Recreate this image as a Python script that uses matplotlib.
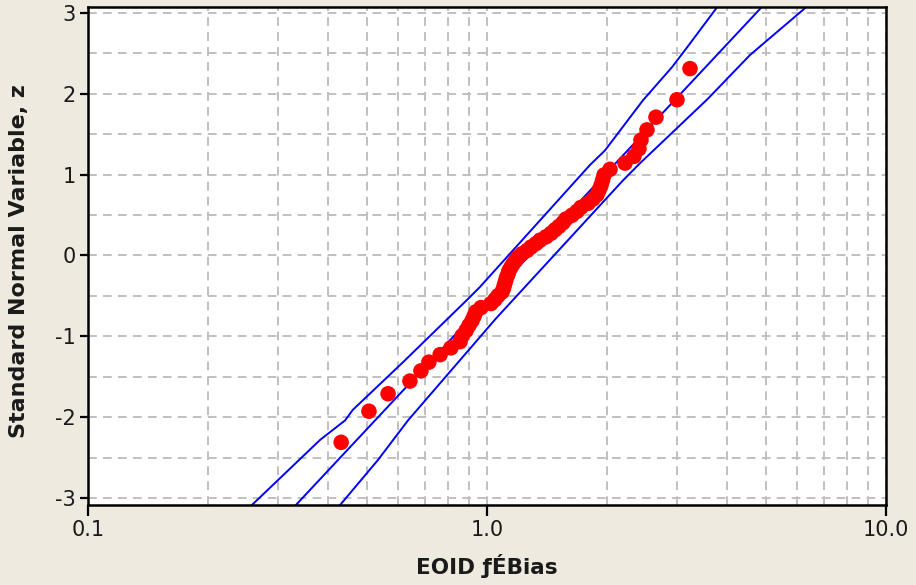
import numpy as np
import matplotlib
matplotlib.use("Agg")
import matplotlib.pyplot as plt
from matplotlib.ticker import FixedLocator, NullFormatter

# standard normal variable (plotting positions) and the matching EOID values
z_scores = [-2.312, -1.927, -1.711, -1.554, -1.428, -1.320, -1.227, -1.143, -1.066, -0.995,
            -0.930, -0.867, -0.808, -0.752, -0.697, -0.645, -0.595, -0.546, -0.498, -0.452,
            -0.406, -0.361, -0.318, -0.274, -0.231, -0.189, -0.147, -0.104, -0.062, -0.021,
            0.021, 0.062, 0.104, 0.147, 0.189, 0.231, 0.274, 0.318, 0.361, 0.406,
            0.452, 0.498, 0.546, 0.595, 0.645, 0.697, 0.752, 0.808, 0.867, 0.930,
            0.995, 1.066, 1.143, 1.227, 1.320, 1.428, 1.554, 1.711, 1.927, 2.312]
eoid_bias = [0.431, 0.506, 0.565, 0.641, 0.683, 0.715, 0.763, 0.812, 0.856, 0.866,
             0.886, 0.901, 0.917, 0.928, 0.938, 0.966, 1.023, 1.047, 1.066, 1.090,
             1.100, 1.106, 1.113, 1.119, 1.129, 1.135, 1.148, 1.162, 1.179, 1.196,
             1.224, 1.260, 1.289, 1.327, 1.358, 1.406, 1.447, 1.481, 1.516, 1.551,
             1.578, 1.633, 1.681, 1.720, 1.791, 1.843, 1.887, 1.909, 1.931, 1.948,
             1.965, 2.034, 2.218, 2.336, 2.404, 2.432, 2.518, 2.652, 2.994, 3.227]

# fitted lognormal line
fit_z = [-3.2, 3.2]
fit_x = [0.316, 5.16]

# confidence bounds
upper_z = [-3.2, -3.06, -2.28, -2.04, -1.91, -1.32, -0.55, -0.39, 1.12, 1.30, 1.92, 2.33, 2.54, 3.07, 3.2]
upper_x = [0.243, 0.261, 0.382, 0.441, 0.461, 0.616, 0.891, 0.960, 1.812, 1.976, 2.460, 2.909, 3.135, 3.772, 3.94]
lower_z = [-3.2, -3.06, -2.53, -2.04, -0.78, 0.93, 1.14, 1.94, 2.48, 3.07, 3.2]
lower_x = [0.410, 0.433, 0.533, 0.634, 1.053, 2.193, 2.417, 3.580, 4.562, 6.302, 6.76]

y_ticks = [-3, -2, -1, 0, 1, 2, 3]
x_ticks = [0.1, 1.0, 10.0]
x_tick_labels = ["0.1", "1.0", "10.0"]

bg = "#EEEAE0"
fig = plt.figure(figsize=(9.16, 5.85), dpi=100, facecolor=bg)
ax = fig.add_axes([0.0961, 0.1368, 0.8711, 0.8512])
ax.set_facecolor("white")

ax.set_xscale("log")
ax.set_xlim(0.1, 10)
ax.set_ylim(-3.087, 3.074)

# dashed grid on every decade step and every half unit of z
grid_x = [m * 10.0 ** e for e in (-1, 0) for m in range(1, 10)] + [10.0]
grid_y = np.arange(-3, 3.01, 0.5)
for gx in grid_x:
    ax.axvline(gx, color="#C0C0C0", lw=1.4, dashes=(4.5, 3.2), zorder=0)
for gy in grid_y:
    ax.axhline(gy, color="#C0C0C0", lw=1.4, dashes=(4.5, 3.2), zorder=0)

ax.plot(fit_x, fit_z, color="#0000FF", lw=1.4, zorder=2)
ax.plot(upper_x, upper_z, color="#0000FF", lw=1.4, zorder=2)
ax.plot(lower_x, lower_z, color="#0000FF", lw=1.4, zorder=2)
ax.scatter(eoid_bias, z_scores, s=125, color="#FF0000", edgecolors="none", zorder=3)

ax.xaxis.set_major_locator(FixedLocator(x_ticks))
ax.xaxis.set_minor_locator(FixedLocator([]))
ax.xaxis.set_minor_formatter(NullFormatter())
ax.set_xticklabels(x_tick_labels)
ax.set_yticks(y_ticks)
ax.set_yticklabels([str(t) for t in y_ticks])

ax.tick_params(axis="x", direction="out", length=8, width=1.6, labelsize=15,
               labelcolor="#1A1A1A", pad=3)
ax.tick_params(axis="y", direction="out", length=6, width=1.6, labelsize=15,
               labelcolor="#1A1A1A", pad=3)

for sp in ax.spines.values():
    sp.set_color("black")
    sp.set_linewidth(1.8)

ax.set_xlabel("EOID ƒÉBias", fontsize=15.5, fontweight="bold", color="#1A1A1A")
ax.set_ylabel("Standard Normal Variable, z", fontsize=16, fontweight="bold",
              color="#1A1A1A")
ax.xaxis.set_label_coords(0.5, -0.098)
ax.yaxis.set_label_coords(-0.074, 0.49)

fig.savefig("out.png", dpi=100, facecolor=bg)
